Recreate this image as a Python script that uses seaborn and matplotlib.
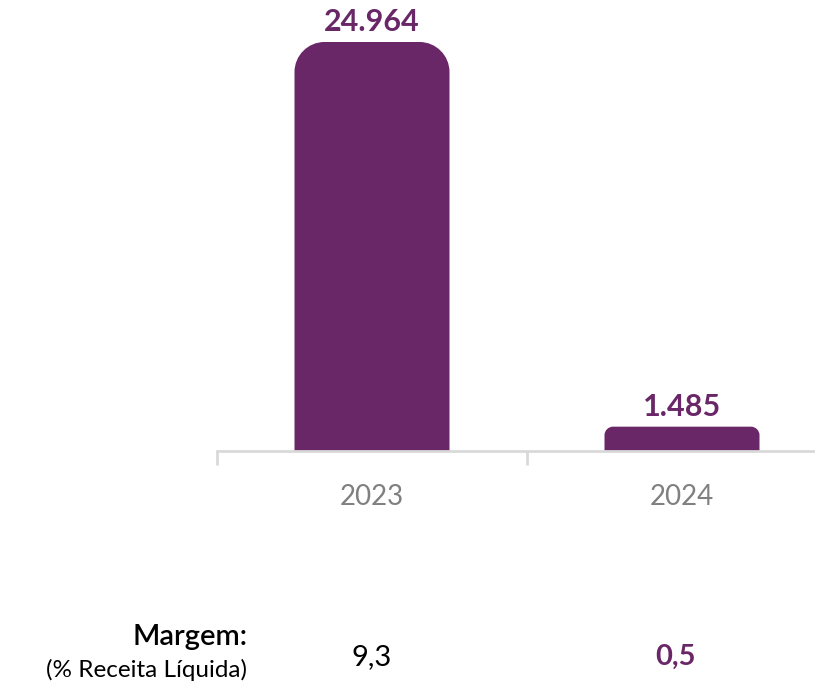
import numpy as np
import pandas as pd
import seaborn as sns
import matplotlib.pyplot as plt
from matplotlib.path import Path
from matplotlib.patches import PathPatch
from matplotlib.transforms import IdentityTransform, blended_transform_factory

# dados do gráfico
anos = ['2023', '2024']
valores = [24964, 1485]
rotulos = ['24.964', '1.485']
margem = ['9,3', '0,5']

roxo = '#6a2768'
cinza_eixo = '#d9d9d9'
cinza_texto = '#808080'

sns.set_style('white')
plt.rcParams['font.family'] = ['Lato', 'DejaVu Sans']

fig = plt.figure(figsize=(8.15, 6.86), dpi=100)
# eixo posicionado em pixels (a linha de base passa em y=451 a partir do topo)
ax = fig.add_axes([217 / 815, 235 / 686, 620 / 815, 441 / 686])

df = pd.DataFrame({'ano': anos, 'valor': valores})
sns.barplot(data=df, x='ano', y='valor', ax=ax, color=roxo, width=0.5,
            saturation=1, edgecolor='none')

ax.set_xlim(-0.5, 1.5)
ax.set_ylim(0, 441 / 409 * 24964)
ax.set_xlabel('')
ax.set_ylabel('')
ax.set_yticks([])
for s in ['left', 'right', 'top']:
    ax.spines[s].set_visible(False)
ax.spines['bottom'].set_color(cinza_eixo)
ax.spines['bottom'].set_linewidth(2)
ax.spines['bottom'].set_clip_on(False)

ax.tick_params(axis='x', which='major', length=0, pad=24,
               labelsize=20, labelcolor=cinza_texto)
ax.set_xticks([-0.5, 0.5, 1.5], minor=True)
ax.tick_params(axis='x', which='minor', bottom=True, length=10, width=2,
               color=cinza_eixo)

# barras com cantos superiores arredondados
fig.canvas.draw()
for p in list(ax.patches):
    x0, y0 = p.get_x(), p.get_y()
    w, h = p.get_width(), p.get_height()
    (px0, py0), (px1, py1) = ax.transData.transform([(x0, y0), (x0 + w, y0 + h)])
    r = min(30, (py1 - py0) * 0.35)
    k = 0.5523 * r
    verts = [(px0, py0), (px0, py1 - r),
             (px0, py1 - r + k), (px0 + r - k, py1), (px0 + r, py1),
             (px1 - r, py1),
             (px1 - r + k, py1), (px1, py1 - r + k), (px1, py1 - r),
             (px1, py0), (px0, py0)]
    codes = [Path.MOVETO, Path.LINETO,
             Path.CURVE4, Path.CURVE4, Path.CURVE4,
             Path.LINETO,
             Path.CURVE4, Path.CURVE4, Path.CURVE4,
             Path.LINETO, Path.CLOSEPOLY]
    ax.add_patch(PathPatch(Path(verts, codes), facecolor=roxo, edgecolor='none',
                           transform=IdentityTransform(), zorder=2))
    p.set_visible(False)

for i, (v, t) in enumerate(zip(valores, rotulos)):
    ax.annotate(t, (i, v), xytext=(0, 4), textcoords='offset points',
                ha='center', va='bottom', fontsize=22, fontweight='bold', color=roxo)

# linha de margem
fig.text(247 / 815, 1 - 637 / 686, 'Margem:', ha='right', va='center',
         fontsize=21, fontweight='semibold', color='black')
fig.text(247 / 815, 1 - 670 / 686, '(% Receita Líquida)', ha='right', va='center',
         fontsize=17.5, color='black')
tr = blended_transform_factory(ax.transData, fig.transFigure)
ax.text(0, 1 - 657 / 686, margem[0], transform=tr, ha='center', va='center',
        fontsize=21, color='black')
ax.text(0.98, 1 - 657 / 686, margem[1], transform=tr, ha='center', va='center',
        fontsize=21, fontweight='bold', color=roxo)

fig.savefig('out.png', dpi=100)
